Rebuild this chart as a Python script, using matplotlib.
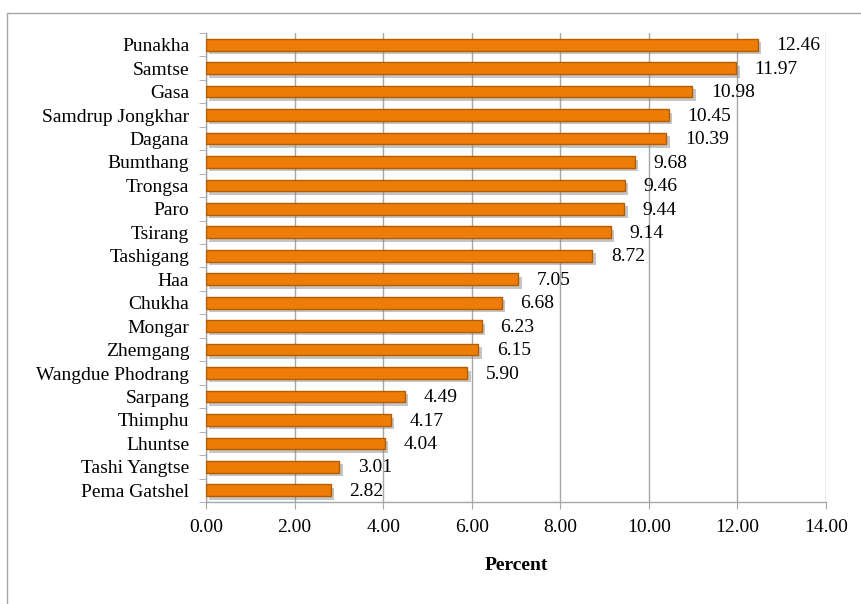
import matplotlib
matplotlib.use("Agg")
import matplotlib.pyplot as plt
import matplotlib.patheffects as pe
from matplotlib.patches import Rectangle
import numpy as np

districts = ["Punakha", "Samtse", "Gasa", "Samdrup Jongkhar", "Dagana", "Bumthang",
             "Trongsa", "Paro", "Tsirang", "Tashigang", "Haa", "Chukha", "Mongar",
             "Zhemgang", "Wangdue Phodrang", "Sarpang", "Thimphu", "Lhuntse",
             "Tashi Yangtse", "Pema Gatshel"]
values = [12.46, 11.97, 10.98, 10.45, 10.39, 9.68, 9.46, 9.44, 9.14, 8.72,
          7.05, 6.68, 6.23, 6.15, 5.90, 4.49, 4.17, 4.04, 3.01, 2.82]
xticks = [0, 2, 4, 6, 8, 10, 12, 14]

plt.rcParams['font.family'] = ['Liberation Serif', 'DejaVu Serif']
FS = 14

fig = plt.figure(figsize=(8.61, 6.04), dpi=100)
fig.patches.append(Rectangle((7/861, -0.05), 1.0, 1 - 13/604 + 0.05, transform=fig.transFigure,
                             fill=False, edgecolor='#a6a6a6', linewidth=1.0))
ax = fig.add_axes([206/861, 1 - 502/604, 620/861, (502 - 33)/604])

n = len(districts)
y = np.arange(n)[::-1]
bars = ax.barh(y, values, height=0.5, color='#ED7D07', edgecolor='#B35C00', linewidth=1.0,
               zorder=3)
for b in bars:
    b.set_path_effects([pe.SimplePatchShadow(offset=(2.5, -2.5), shadow_rgbFace='#808080', alpha=0.45),
                        pe.Normal()])

for yi, v in zip(y, values):
    ax.text(v + 0.42, yi - 0.05, f"{v:.2f}", va='center', ha='left', fontsize=FS, color='black')

ax.set_xlim(0, 14)
ax.set_ylim(-0.5, n - 0.5)
ax.set_xticks(xticks)
ax.set_xticklabels([f"{t:.2f}" for t in xticks], fontsize=FS)
ax.set_yticks(y)
ax.set_yticklabels(districts, fontsize=FS)
ax.set_yticks(np.arange(-0.5, n, 1.0), minor=True)
ax.tick_params(axis='y', which='major', length=0, pad=12)
ax.tick_params(axis='y', which='minor', length=5, color='#a6a6a6', direction='out')
ax.tick_params(axis='x', length=5, color='#a6a6a6', direction='out', pad=7)
ax.grid(axis='x', color='#a6a6a6', linewidth=1.0, zorder=0)
for s in ['top', 'right']:
    ax.spines[s].set_visible(False)
for s in ['left', 'bottom']:
    ax.spines[s].set_color('#a6a6a6')
    ax.spines[s].set_linewidth(1.0)
ax.set_axisbelow(True)
ax.set_xlabel("Percent", fontsize=14, fontweight='bold', labelpad=15)

fig.savefig("out.png", dpi=100)
